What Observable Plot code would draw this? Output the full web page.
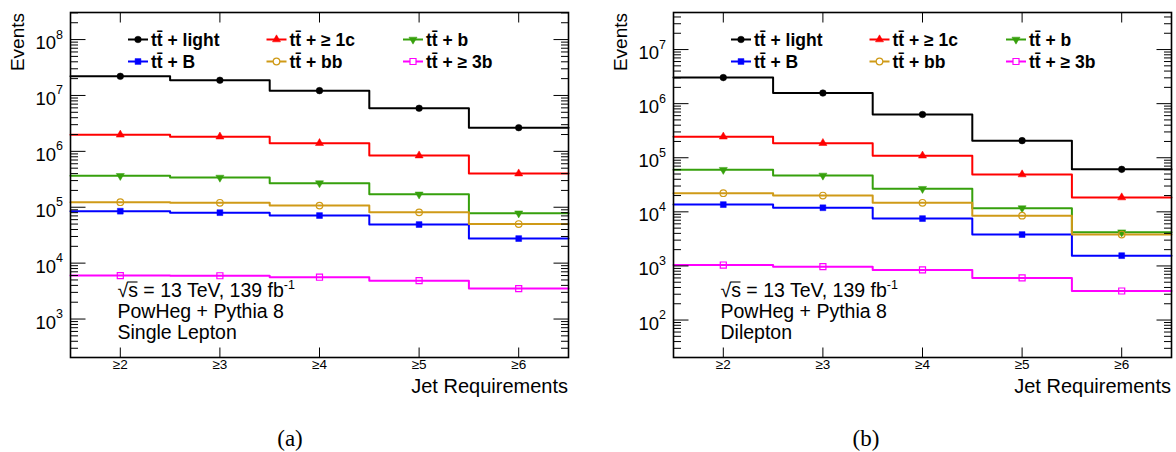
<!DOCTYPE html>
<html><head><meta charset="utf-8">
<script src="https://cdn.jsdelivr.net/npm/d3@7"></script>
<script src="https://cdn.jsdelivr.net/npm/@observablehq/plot@0.6"></script>
<style>
body{margin:0;background:#fff;font-family:"Liberation Sans",Arial,sans-serif;}
#wrap{position:relative;width:1176px;height:452px;overflow:hidden;}
.panel{position:absolute;top:0;}
.cap{position:absolute;top:427px;font-family:"Liberation Serif","DejaVu Serif",serif;font-size:23px;line-height:23px;transform:translateX(-50%);color:#000;}
</style></head><body><div id="wrap"></div>
<script>
// ---------------- data ----------------
const jetBins = [2, 3, 4, 5, 6];
const jetLabels = ["≥2", "≥3", "≥4", "≥5", "≥6"];
const seriesNames = ["tt\u0304 + light", "tt\u0304 + \u2265 1c", "tt\u0304 + b", "tt\u0304 + B", "tt\u0304 + bb", "tt\u0304 + \u2265 3b"];
const seriesColors = ["#000000", "#ff0000", "#36a00c", "#0000ff", "#cf9a17", "#ff00ff"];

// (a) Single lepton
const slLight = [2.2e7, 1.87e7, 1.22e7, 5.9e6, 2.65e6];
const sl1c    = [1.98e6, 1.83e6, 1.40e6, 8.4e5, 4.0e5];
const slb     = [3.65e5, 3.4e5, 2.7e5, 1.7e5, 7.8e4];
const slB     = [8.5e4, 8.0e4, 7.1e4, 4.9e4, 2.75e4];
const slbb    = [1.23e5, 1.2e5, 1.07e5, 8.1e4, 5.0e4];
const sl3b    = [6.0e3, 5.95e3, 5.6e3, 4.85e3, 3.5e3];

// (b) Dilepton
const dlLight = [3.03e6, 1.57e6, 6.3e5, 2.07e5, 6.1e4];
const dl1c    = [2.45e5, 1.86e5, 1.09e5, 4.9e4, 1.84e4];
const dlb     = [6.0e4, 4.7e4, 2.67e4, 1.17e4, 4.2e3];
const dlB     = [1.36e4, 1.19e4, 7.5e3, 3.8e3, 1.55e3];
const dlbb    = [2.21e4, 2.0e4, 1.47e4, 8.5e3, 3.8e3];
const dl3b    = [1.04e3, 970, 843, 600, 344];

const slDomain = [205, 3.05e8];
const dlDomain = [20.3, 4.84e7];
const annotationLines = ["\u221As = 13 TeV, 139 fb", "PowHeg + Pythia 8"];
const channelLabels = ["Single Lepton", "Dilepton"];
const captions = ["(a)", "(b)"];
const yTitle = "Events";
const xTitle = "Jet Requirements";

// ---------------- symbols ----------------
const sqrt3 = Math.sqrt(3);
const triDown = {draw(ctx, size) {
  const y = -Math.sqrt(size / (sqrt3 * 3));
  ctx.moveTo(0, -y * 2); ctx.lineTo(-sqrt3 * y, y); ctx.lineTo(sqrt3 * y, y); ctx.closePath();
}};
const seriesSymbols = [d3.symbolCircle, d3.symbolTriangle, triDown, d3.symbolSquare, d3.symbolCircle, d3.symbolSquare];
const seriesOpen = [false, false, false, false, true, true];
const seriesR = [3.3, 3.0, 3.0, 3.3, 3.3, 3.4];
const tickSym = (dx, dy) => ({draw(ctx) { ctx.moveTo(0, 0); ctx.lineTo(dx, dy); }});

function panel(values, yDomain, opts) {
  const {width, ml, mr, channel} = opts;
  const height = 410, mt = 12, mb = 53;
  const edges = jetBins.map(b => b - 0.5).concat([jetBins[jetBins.length - 1] + 0.5]);
  const lo = Math.floor(Math.log10(yDomain[0])), hi = Math.ceil(Math.log10(yDomain[1]));
  const majors = d3.range(lo, hi + 1).map(k => Math.pow(10, k)).filter(v => v >= yDomain[0] && v <= yDomain[1]);
  const minors = [];
  for (let k = lo - 1; k <= hi; k++) for (let m = 2; m <= 9; m++) {
    const v = m * Math.pow(10, k);
    if (v > yDomain[0] && v < yDomain[1]) minors.push(v);
  }
  const marks = [];
  values.forEach((vals, s) => {
    const pts = edges.map((e, i) => ({x: e, y: vals[Math.min(i, vals.length - 1)]}));
    marks.push(Plot.line(pts, {x: "x", y: "y", curve: "step-after", stroke: seriesColors[s], strokeWidth: 2}));
  });
  values.forEach((vals, s) => {
    const pts = jetBins.map((b, i) => ({x: b, y: vals[i]}));
    marks.push(Plot.dot(pts, {x: "x", y: "y", symbol: seriesSymbols[s], r: seriesR[s],
      fill: seriesOpen[s] ? "none" : seriesColors[s], stroke: seriesColors[s], strokeWidth: seriesOpen[s] ? 1.2 : 0.5}));
  });
  // ticks
  marks.push(Plot.dot(majors, {y: d => d, frameAnchor: "left", symbol: tickSym(15, 0), r: 1, stroke: "black", strokeWidth: 1}));
  marks.push(Plot.dot(minors, {y: d => d, frameAnchor: "left", symbol: tickSym(7.5, 0), r: 1, stroke: "black", strokeWidth: 1}));
  marks.push(Plot.dot(majors, {y: d => d, frameAnchor: "right", symbol: tickSym(-15, 0), r: 1, stroke: "black", strokeWidth: 1}));
  marks.push(Plot.dot(minors, {y: d => d, frameAnchor: "right", symbol: tickSym(-7.5, 0), r: 1, stroke: "black", strokeWidth: 1}));
  marks.push(Plot.dot(jetBins, {x: d => d, frameAnchor: "bottom", symbol: tickSym(0, -10), r: 1, stroke: "black", strokeWidth: 1}));
  marks.push(Plot.dot(jetBins, {x: d => d, frameAnchor: "top", symbol: tickSym(0, 10), r: 1, stroke: "black", strokeWidth: 1}));
  // tick labels
  marks.push(Plot.text(majors, {y: d => d, text: () => "10", frameAnchor: "left", textAnchor: "end", dx: -14.5, dy: 3.6, fontSize: 18.5}));
  marks.push(Plot.text(majors, {y: d => d, text: d => String(Math.round(Math.log10(d))), frameAnchor: "left", textAnchor: "start", dx: -14.5, dy: -5, fontSize: 12.5}));
  marks.push(Plot.text(jetBins, {x: d => d, text: (d, i) => jetLabels[i], frameAnchor: "bottom", dy: 11.6, fontSize: 13.5}));
  marks.push(Plot.frame({stroke: "black", strokeWidth: 1.6}));

  const svg = Plot.plot({
    width, height, marginLeft: ml, marginRight: mr, marginTop: mt, marginBottom: mb,
    style: {fontFamily: "Liberation Sans, Arial, sans-serif", background: "white", overflow: "visible"},
    x: {domain: [edges[0], edges[edges.length - 1]], axis: null},
    y: {type: "log", domain: yDomain, axis: null},
    marks
  });

  // overlay: titles, legend, annotation
  const g = d3.select(svg).append("g").attr("font-family", "Liberation Sans, Arial, sans-serif")
    .attr("fill", "black").attr("text-anchor", "start");
  const fr = width - mr;
  g.append("text").attr("transform", `translate(${ml - 46},${mt + 1}) rotate(-90)`)
    .attr("text-anchor", "end").attr("font-size", 19).text(yTitle);
  g.append("text").attr("x", fr).attr("y", 393).attr("text-anchor", "end").attr("font-size", 20).text(xTitle);

  const colX = [58, 196.5, 333], rowY = [39.5, 61.5];
  seriesNames.forEach((name, i) => {
    const x0 = ml + colX[i % 3], y0 = rowY[Math.floor(i / 3)];
    g.append("line").attr("x1", x0).attr("x2", x0 + 20).attr("y1", y0).attr("y2", y0)
      .attr("stroke", seriesColors[i]).attr("stroke-width", 2);
    const r = seriesR[i];
    g.append("path").attr("transform", `translate(${x0 + 10},${y0})`)
      .attr("d", d3.symbol(seriesSymbols[i], Math.PI * r * r)())
      .attr("fill", seriesOpen[i] ? "white" : seriesColors[i]).attr("stroke", seriesColors[i])
      .attr("stroke-width", seriesOpen[i] ? 1.2 : 0.5);
    g.append("text").attr("x", x0 + 23).attr("y", y0 + 6).attr("font-size", 17.5).attr("font-weight", "bold").text(name);
  });

  const ax = ml + 47.5;
  const fs = 19.5;
  const t1 = g.append("text").attr("x", ax).attr("y", 296.7).attr("font-size", fs);
  t1.append("tspan").text(annotationLines[0]);
  t1.append("tspan").attr("font-size", 12.5).attr("dy", -7.5).text("-1");
  g.append("line").attr("x1", ax + 10).attr("x2", ax + 20).attr("y1", 282).attr("y2", 282).attr("stroke", "black").attr("stroke-width", 1.1);
  g.append("text").attr("x", ax).attr("y", 317.8).attr("font-size", fs).text(annotationLines[1]);
  g.append("text").attr("x", ax).attr("y", 339.3).attr("font-size", fs).text(channel);
  return svg;
}

const wrap = document.getElementById("wrap");
const left = panel([slLight, sl1c, slb, slB, slbb, sl3b], slDomain, {width: 580, ml: 70, mr: 12, channel: channelLabels[0]});
left.classList.add("panel"); left.style.left = "0px";
wrap.appendChild(left);
const right = panel([dlLight, dl1c, dlb, dlB, dlbb, dl3b], dlDomain, {width: 586, ml: 83, mr: 5, channel: channelLabels[1]});
right.classList.add("panel"); right.style.left = "590px";
wrap.appendChild(right);

[[captions[0], 290], [captions[1], 866]].forEach(([t, x]) => {
  const d = document.createElement("div");
  d.className = "cap"; d.style.left = x + "px"; d.textContent = t;
  wrap.appendChild(d);
});
</script></body></html>
